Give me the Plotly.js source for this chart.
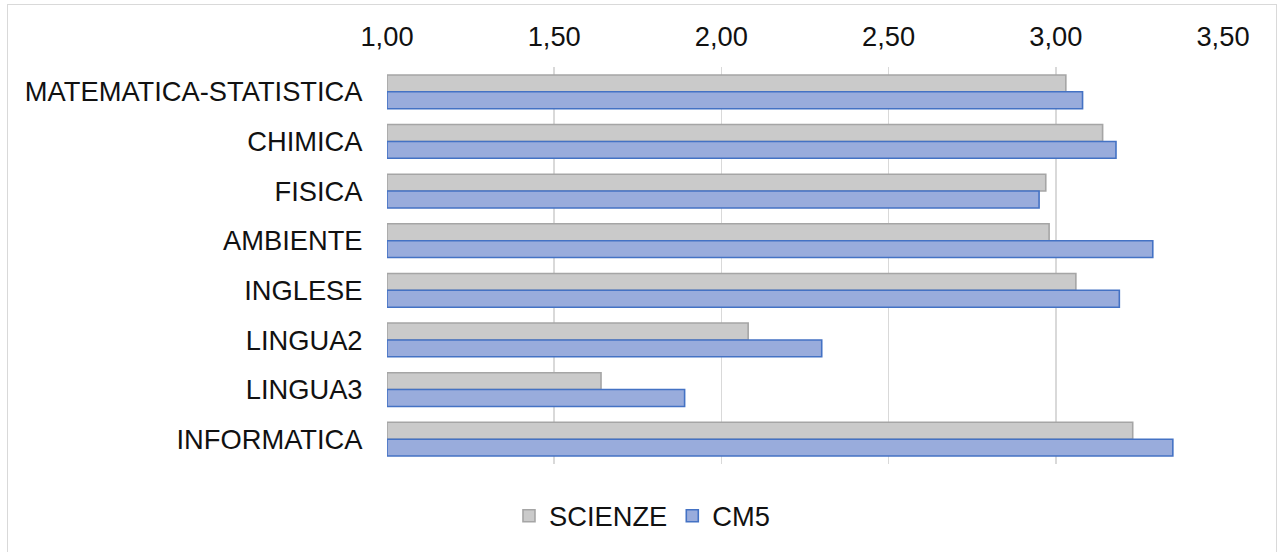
<!DOCTYPE html>
<html>
<head>
<meta charset="utf-8">
<script src="https://cdn.plot.ly/plotly-3.0.1.min.js"></script>
<style>
  html, body { margin: 0; padding: 0; background: #fff; }
  #wrap { position: relative; width: 1280px; height: 552px; overflow: hidden; }
  #frame { position: absolute; left: 7px; top: 4px; width: 1270px; height: 600px; border: 1.5px solid #d9d9d9; box-sizing: border-box; }
  #chart { position: absolute; left: 0; top: 0; width: 1280px; height: 552px; }
</style>
</head>
<body>
<div id="wrap">
  <div id="frame"></div>
  <div id="chart"></div>
</div>
<script>
const categories = ["MATEMATICA-STATISTICA", "CHIMICA", "FISICA", "AMBIENTE", "INGLESE", "LINGUA2", "LINGUA3", "INFORMATICA"];
const scienze = [3.03, 3.14, 2.97, 2.98, 3.06, 2.08, 1.64, 3.23];
const cm5 = [3.08, 3.18, 2.95, 3.29, 3.19, 2.30, 1.89, 3.35];
const tickVals = [1.0, 1.5, 2.0, 2.5, 3.0, 3.5];
const tickText = ["1,00", "1,50", "2,00", "2,50", "3,00", "3,50"];
const axisBase = 1;

const font = { family: "Liberation Sans, Arial, sans-serif", size: 27.3, color: "#111" };

const traces = [
  {
    type: "bar", orientation: "h", name: "SCIENZE",
    y: categories, x: scienze.map(v => v - axisBase), base: axisBase,
    marker: { color: "#cacaca", line: { color: "#a5a5a5", width: 1.6 } },
    hoverinfo: "skip"
  },
  {
    type: "bar", orientation: "h", name: "CM5",
    y: categories, x: cm5.map(v => v - axisBase), base: axisBase,
    marker: { color: "#99acdc", line: { color: "#4472c4", width: 1.6 } },
    hoverinfo: "skip"
  }
];

const layout = {
  width: 1280, height: 552,
  paper_bgcolor: "rgba(0,0,0,0)", plot_bgcolor: "rgba(0,0,0,0)",
  margin: { l: 387, r: 57, t: 67, b: 88, pad: 0 },
  font: font,
  barmode: "group", bargap: 0.32, bargroupgap: 0,
  showlegend: true,
  legend: {
    orientation: "h", x: 0.305, xanchor: "center", y: -0.131, yanchor: "middle",
    font: font, bgcolor: "rgba(0,0,0,0)", traceorder: "normal"
  },
  xaxis: {
    side: "top", range: [1, 3.5], tickvals: tickVals, ticktext: tickText,
    showgrid: true, gridcolor: "#d9d9d9", gridwidth: 1.6,
    zeroline: false, showline: false,
    ticks: "outside", ticklen: 9, tickcolor: "rgba(0,0,0,0)",
    tickfont: font, fixedrange: true
  },
  yaxis: {
    type: "category", autorange: "reversed",
    showgrid: false, zeroline: false, showline: false,
    ticks: "outside", ticklen: 18, tickcolor: "rgba(0,0,0,0)",
    tickfont: font, fixedrange: true
  }
};

Plotly.newPlot("chart", traces, layout, { displayModeBar: false, staticPlot: true });
</script>
</body>
</html>
